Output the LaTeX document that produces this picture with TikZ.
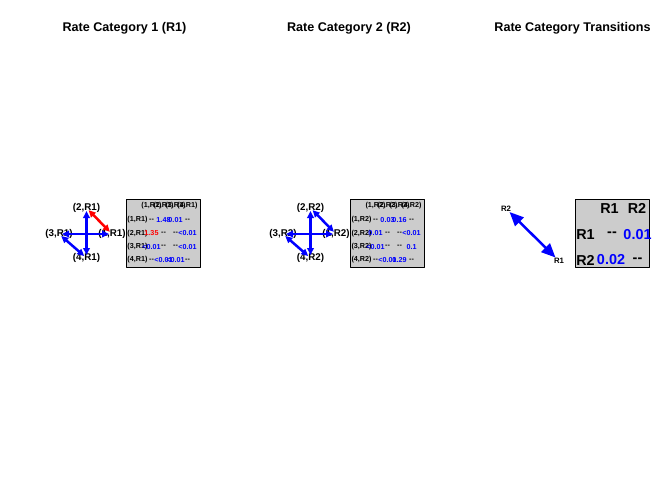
\documentclass[tikz,border=0pt]{standalone}
\usepackage{fontspec}
\setmainfont{Liberation Sans}
\usetikzlibrary{arrows.meta}
\newcommand{\nolink}{-{}-}
\begin{document}
\begin{tikzpicture}[x=1pt, y=-1pt, line join=round, line cap=round,
    ttl/.style={font=\fontsize{12.6}{14}\selectfont\bfseries, anchor=base},
    vlab/.style={font=\fontsize{9.8}{11}\selectfont\bfseries, inner sep=0pt},
    cell/.style={font=\fontsize{7.2}{8}\selectfont\bfseries, inner sep=0pt},
    bigcell/.style={font=\fontsize{14.4}{16}\selectfont\bfseries, inner sep=0pt},
    ratebox/.style={draw=black, fill=black!20, line width=0.8pt, inner sep=0pt},
    edge/.style={blue, line width=2.5pt,
        {Triangle[length=7pt,width=6.5pt]}-{Triangle[length=7pt,width=6.5pt]},
        shorten <=3pt, shorten >=3pt}]
    \useasboundingbox (0,0) rectangle (672,480);
    % titles
    \node[ttl] (t1) at (124.5,31) {Rate Category 1 (R1)};
    \node[ttl] (t2) at (349,31) {Rate Category 2 (R2)};
    \node[ttl] (t3) at (572.5,31) {Rate Category Transitions};
    % panel R1: graph
    \node[vlab] (a1) at (112,234) {(1,R1)};
    \node[vlab] (a2) at (86.5,208) {(2,R1)};
    \node[vlab] (a3) at (59,234) {(3,R1)};
    \node[vlab] (a4) at (86.5,258) {(4,R1)};
    \draw[edge] (a2.center) -- (a4.center);
    \draw[edge] (a3.center) -- (a1.center);
    \draw[edge, red] (a2.center) -- (a1.center);
    \draw[edge] (a3.center) -- (a4.center);
    % panel R1: rates
    \node[ratebox, minimum width=74pt, minimum height=68.5pt] (m1) at (163.5,233.25) {};
    \foreach \c in {1,...,4}{\node[cell] (h1-\c) at ({139.5+12*\c},206) {(\c,R1)};}
    \foreach \r in {1,...,4}{\node[cell] (r1-\r) at (137.5,{206.7+13.33*\r}) {(\r,R1)};}
    \foreach \r/\c/\v/\col in {1/1/\nolink/black, 1/2/1.48/blue, 1/3/0.01/blue, 1/4/\nolink/black,
        2/1/1.35/red, 2/2/\nolink/black, 2/3/\nolink/black, 2/4/<0.01/blue,
        3/1/<0.01/blue, 3/2/\nolink/black, 3/3/\nolink/black, 3/4/<0.01/blue,
        4/1/\nolink/black, 4/2/<0.01/blue, 4/3/<0.01/blue, 4/4/\nolink/black}{
        \node[cell, text=\col] (c1-\r-\c) at ({139.5+12*\c},{206.7+13.33*\r}) {\v};}
    % panel R2: graph
    \node[vlab] (b1) at (336,234) {(1,R2)};
    \node[vlab] (b2) at (310.5,208) {(2,R2)};
    \node[vlab] (b3) at (283,234) {(3,R2)};
    \node[vlab] (b4) at (310.5,258) {(4,R2)};
    \draw[edge] (b2.center) -- (b4.center);
    \draw[edge] (b3.center) -- (b1.center);
    \draw[edge] (b2.center) -- (b1.center);
    \draw[edge] (b3.center) -- (b4.center);
    % panel R2: rates
    \node[ratebox, minimum width=74pt, minimum height=68.5pt] (m2) at (387.5,233.25) {};
    \foreach \c in {1,...,4}{\node[cell] (h2-\c) at ({363.5+12*\c},206) {(\c,R2)};}
    \foreach \r in {1,...,4}{\node[cell] (r2-\r) at (361.5,{206.7+13.33*\r}) {(\r,R2)};}
    \foreach \r/\c/\v/\col in {1/1/\nolink/black, 1/2/0.03/blue, 1/3/0.16/blue, 1/4/\nolink/black,
        2/1/0.01/blue, 2/2/\nolink/black, 2/3/\nolink/black, 2/4/<0.01/blue,
        3/1/<0.01/blue, 3/2/\nolink/black, 3/3/\nolink/black, 3/4/0.1/blue,
        4/1/\nolink/black, 4/2/<0.01/blue, 4/3/0.29/blue, 4/4/\nolink/black}{
        \node[cell, text=\col] (c2-\r-\c) at ({363.5+12*\c},{206.7+13.33*\r}) {\v};}
    % panel transitions
    \node[font=\fontsize{7.8}{9}\selectfont\bfseries, inner sep=0pt] (s2) at (506,208.5) {R2};
    \node[font=\fontsize{7.8}{9}\selectfont\bfseries, inner sep=0pt] (s1) at (559,261) {R1};
    \draw[blue, line width=2.5pt, shorten <=5pt, shorten >=5pt,
        {Triangle[length=14pt,width=12pt]}-{Triangle[length=14pt,width=12pt]}] (s2.center) -- (s1.center);
    \node[ratebox, minimum width=73.5pt, minimum height=68pt] (m3) at (612.5,233.3) {};
    \node[bigcell] (h3-1) at (609.5,208.5) {R1};
    \node[bigcell] (h3-2) at (637,208.5) {R2};
    \node[bigcell] (r3-1) at (585.5,234.3) {R1};
    \node[bigcell] (r3-2) at (585.5,260) {R2};
    \node[bigcell] (c3-1-1) at (612,234.3) {\nolink};
    \node[bigcell, text=blue] (c3-1-2) at (637.5,234.3) {0.01};
    \node[bigcell, text=blue] (c3-2-1) at (611,260) {0.02};
    \node[bigcell] (c3-2-2) at (637.5,260) {\nolink};
\end{tikzpicture}
\end{document}
